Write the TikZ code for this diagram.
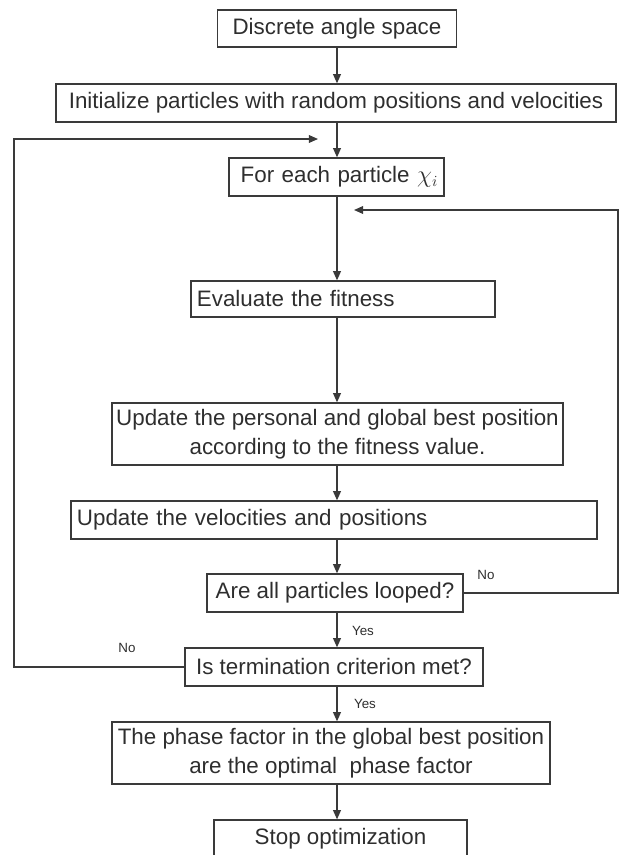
\documentclass[tikz,border=0pt]{standalone}
\usepackage{fontspec}
\setmainfont{Liberation Sans}
\usepackage{xcolor}
\usetikzlibrary{positioning, arrows.meta, calc}

\definecolor{linegray}{HTML}{3A3A3A}
\definecolor{textgray}{HTML}{2E2E2E}

\begin{document}
\begin{tikzpicture}[
    x=0.025cm, y=-0.025cm,
    % Custom styles for the boxes, connectors and labels
    flowbox/.style={
        draw=linegray, line width=0.9pt,
        inner xsep=0.15cm, inner ysep=0pt,
        font=\fontsize{15.9}{20.6}\selectfont, text=textgray
    },
    flowline/.style={draw=linegray, line width=0.9pt},
    flowarrow/.style={flowline, -{Triangle[length=6.5pt, width=5.5pt]}},
    answer/.style={font=\fontsize{9.5}{11}\selectfont, text=textgray, inner sep=0pt}
]
\useasboundingbox (0,0) rectangle (619,855);

% ==========================================
% MAIN COLUMN: THE PROCESS BOXES
% ==========================================
\node[flowbox, minimum width=5.975cm, minimum height=0.925cm] (disc) at (337,28.5) {Discrete angle space};
\node[flowbox, minimum width=14cm, minimum height=0.95cm] (init) at (336,103) {Initialize particles with random positions and velocities};
\node[flowbox, text width=5.075cm, align=right, minimum height=0.95cm] (each) at (336.5,177) {For each particle $\chi_i$};
\node[flowbox, text width=7.3cm, align=left, minimum height=0.9cm] (eval) at (343,299) {Evaluate the fitness};
\node[flowbox, inner xsep=0.1cm, minimum width=11.275cm, minimum height=1.55cm, align=center] (pbest) at (337.5,434) {Update the personal and global best position\\ according to the fitness value.};
\node[flowbox, text width=12.85cm, align=left, minimum height=0.95cm] (vel) at (334,520) {Update the velocities and positions};
\node[flowbox, minimum width=6.4cm, minimum height=0.95cm] (loop) at (335,593) {Are all particles looped?};
\node[flowbox, minimum width=7.45cm, minimum height=0.95cm] (term) at (334,667) {Is termination criterion met?};
\node[flowbox, inner xsep=0.1cm, minimum width=10.95cm, minimum height=1.55cm, align=center] (phase) at (331,753) {The phase factor in the global best position\\ are the optimal \ phase factor};
\node[flowbox, minimum width=6.325cm, minimum height=0.95cm] (stop) at (340.5,839) {Stop optimization};

% ==========================================
% CONNECTORS DOWN THE SPINE
% ==========================================
\coordinate (spine) at (337,0);
\draw[flowarrow] (disc.south -| spine) -- (init.north -| spine);
\draw[flowarrow] (init.south -| spine) -- (each.north -| spine);
\draw[flowarrow] (each.south -| spine) -- (eval.north -| spine);
\draw[flowarrow] (eval.south -| spine) -- (pbest.north -| spine);
\draw[flowarrow] (pbest.south -| spine) -- (vel.north -| spine);
\draw[flowarrow] (vel.south -| spine) -- (loop.north -| spine);
\draw[flowarrow] (loop.south -| spine) -- (term.north -| spine);
\draw[flowarrow] (term.south -| spine) -- (phase.north -| spine);
\draw[flowarrow] (phase.south -| spine) -- (stop.north -| spine);

% ==========================================
% FEEDBACK LOOPS AND ANSWERS
% ==========================================
% Inner loop (right side), back above the fitness box
\coordinate (rcorner) at (618,210);
\coordinate (rend) at (354,210);
\draw[flowarrow] (loop.east) -| (rcorner) -- (rend);

% Outer loop (left side), back above the particle box
\coordinate (lcorner) at (14,139);
\coordinate (lend) at (318,139);
\draw[flowarrow] (term.west) -| (lcorner) -- (lend);

\node[answer] (no1) at (486,575) {No};
\node[answer] (yes1) at (363,631) {Yes};
\node[answer] (no2) at (127,648) {No};
\node[answer] (yes2) at (365,704) {Yes};

\end{tikzpicture}
\end{document}
